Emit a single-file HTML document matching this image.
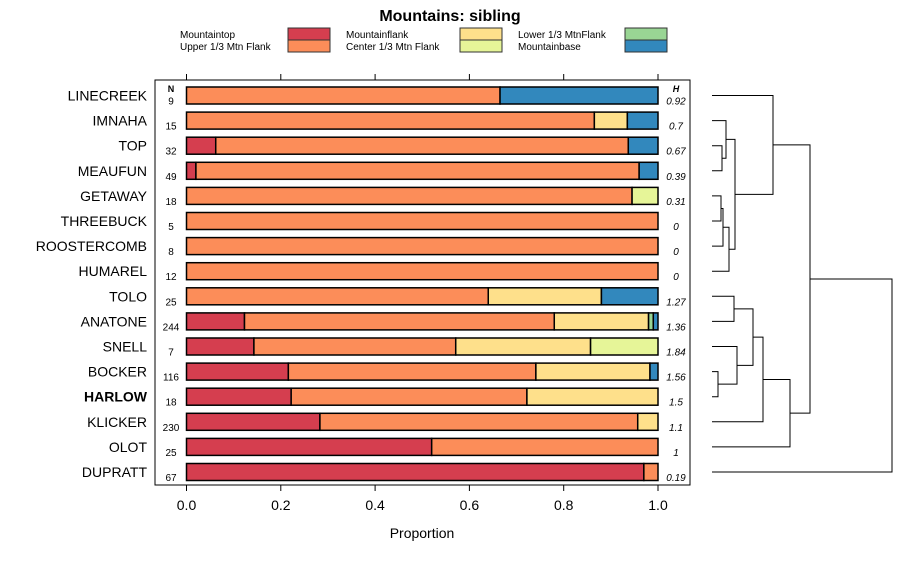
<!DOCTYPE html>
<html><head><meta charset="utf-8"><style>
body{margin:0;background:#fff}
svg{font-family:"Liberation Sans",sans-serif}
</style></head><body>
<svg id="c" width="900" height="560" xmlns="http://www.w3.org/2000/svg">
<text x="450" y="21" text-anchor="middle" font-size="16" font-weight="bold">Mountains: sibling</text>
<g id="legend"></g>
<rect x="155" y="80" width="535" height="405" fill="none" stroke="#000"/>
<g id="bars"></g>
<g id="axis"></g>
<text x="422" y="538" text-anchor="middle" font-size="14">Proportion</text>
<text x="171" y="92" text-anchor="middle" font-size="9" font-weight="bold">N</text>
<text x="676" y="92" text-anchor="middle" font-size="9" font-weight="bold" font-style="italic">H</text>
<g id="dendro" stroke="#000" fill="none" stroke-width="1"></g>
</svg>
<script>
const sites=["LINECREEK","IMNAHA","TOP","MEAUFUN","GETAWAY","THREEBUCK","ROOSTERCOMB","HUMAREL","TOLO","ANATONE","SNELL","BOCKER","HARLOW","KLICKER","OLOT","DUPRATT"];
const nVals=[9,15,32,49,18,5,8,12,25,244,7,116,18,230,25,67];
const hVals=["0.92","0.7","0.67","0.39","0.31","0","0","0","1.27","1.36","1.84","1.56","1.5","1.1","1","0.19"];
const categories=["Mountaintop","Upper 1/3 Mtn Flank","Mountainflank","Center 1/3 Mtn Flank","Lower 1/3 MtnFlank","Mountainbase"];
const colors=["#d53e4f","#fc8d59","#fee08b","#e6f598","#99d594","#3288bd"];
const mountaintop=[0,0,0.062,0.02,0,0,0,0,0,0.123,0.143,0.216,0.222,0.283,0.52,0.97];
const upperFlank=[0.665,0.865,0.875,0.94,0.945,1,1,1,0.64,0.657,0.428,0.525,0.5,0.674,0.48,0.03];
const mountainflank=[0,0.07,0,0,0,0,0,0,0.24,0.2,0.286,0.242,0.278,0.043,0,0];
const centerFlank=[0,0,0,0,0.055,0,0,0,0,0,0.143,0,0,0,0,0];
const lowerFlank=[0,0,0,0,0,0,0,0,0,0.01,0,0,0,0,0,0];
const mountainbase=[0.335,0.065,0.063,0.04,0,0,0,0,0.12,0.01,0,0.017,0,0,0,0];
const xTicks=[0,0.2,0.4,0.6,0.8,1.0];
const xTickLabels=["0.0","0.2","0.4","0.6","0.8","1.0"];
const series=[mountaintop,upperFlank,mountainflank,centerFlank,lowerFlank,mountainbase];
const NS="http://www.w3.org/2000/svg";
const xs=v=>186.5+v*(658-186.5);
const ys=i=>95.5+i*25.1;
function mk(tag,attrs,parent){const el=document.createElementNS(NS,tag);for(const k in attrs)el.setAttribute(k,attrs[k]);parent.appendChild(el);return el;}
const barsG=document.getElementById('bars');
sites.forEach((s,i)=>{
  const t=mk('text',{x:147,y:ys(i)+5,'text-anchor':'end','font-size':14,'font-weight':s==='HARLOW'?'bold':'normal'},barsG);
  t.textContent=s;
  
  
  const n=mk('text',{x:171,y:ys(i)+9,'text-anchor':'middle','font-size':10},barsG);
  n.textContent=nVals[i];
  
  
  const h=mk('text',{x:676,y:ys(i)+9,'text-anchor':'middle','font-size':10,'font-style':'italic'},barsG);
  h.textContent=hVals[i];
  
  
  let cum=0;
  series.forEach((ser,k)=>{
    const v=ser[i]; if(v<=0)return;
    const r=mk('rect',{x:xs(cum),y:ys(i)-8.5,width:xs(cum+v)-xs(cum),height:17,fill:colors[k],stroke:'#000','stroke-width':1.5},barsG);
    
    
    cum+=v;
  });
});
const axG=document.getElementById('axis');
xTicks.forEach((v,i)=>{
  mk('line',{x1:xs(v),x2:xs(v),y1:485,y2:491,stroke:'#000'},axG);
  mk('line',{x1:xs(v),x2:xs(v),y1:74,y2:80,stroke:'#000'},axG);
  const t=mk('text',{x:xs(v),y:510,'text-anchor':'middle','font-size':14},axG);
  t.textContent=xTickLabels[i];
  
  
});
const lgG=document.getElementById('legend');
const lx=[[180,288],[346,460],[518,625]];
categories.forEach((c,k)=>{
  const col=Math.floor(k/2),row=k%2;
  const t=mk('text',{x:lx[col][0],y:38+row*12,'font-size':10},lgG);
  t.textContent=c;
  
  
  const r=mk('rect',{x:lx[col][1],y:28+row*12,width:42,height:12,fill:colors[k],stroke:'#333'},lgG);
  
  
});
const dG=document.getElementById('dendro');
const L0=712;
function seg(pts){const p=mk('polyline',{points:pts.map(q=>q.join(',')).join(' ')},dG);}
function join(xa,ya,xb,yb,h){seg([[xa,ya],[h,ya],[h,yb],[xb,yb]]);return (ya+yb)/2;}
const YY=sites.map((s,i)=>ys(i));
let j1=join(L0,YY[2],L0,YY[3],722);
let j2=join(L0,YY[1],722,j1,726);
let j3=join(L0,YY[4],L0,YY[5],721);
j3=join(721,j3,L0,YY[6],723);
j3=join(723,j3,L0,YY[7],729);
let j4=join(726,j2,729,j3,735);
let upperGrp=join(L0,YY[0],735,j4,773);
let j5=join(L0,YY[8],L0,YY[9],734);
let j6=join(L0,YY[11],L0,YY[12],718);
j6=join(L0,YY[10],718,j6,737);
let j7=join(734,j5,737,j6,753);
j7=join(753,j7,L0,YY[13],763);
j7=join(763,j7,L0,YY[14],790);
let j8=join(773,upperGrp,790,j7,810);
join(810,j8,L0,YY[15],892);
</script>
</body></html>
